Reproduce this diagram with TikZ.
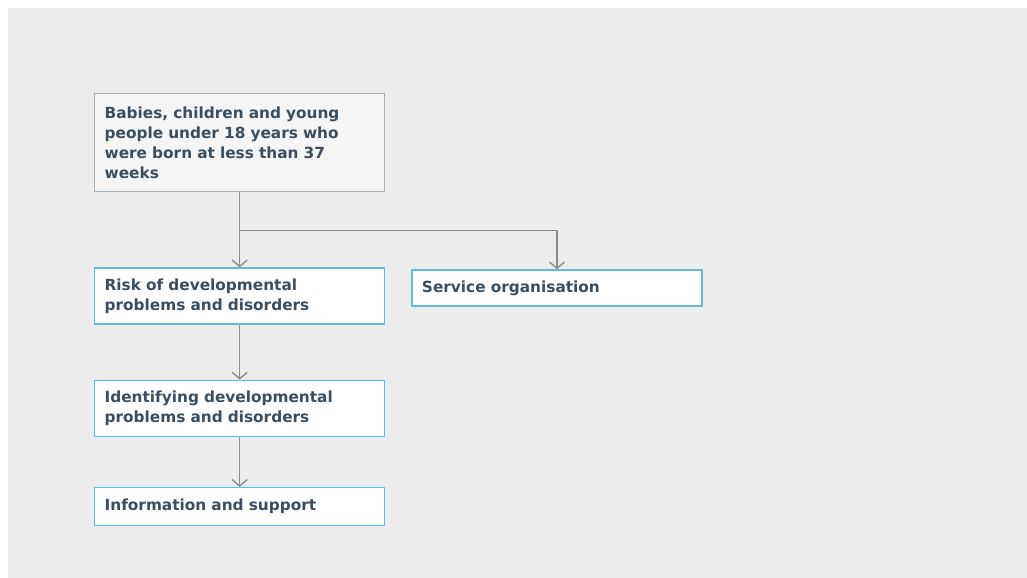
\documentclass[tikz,border=0pt]{standalone}
\usepackage{fontspec}
\setmainfont{DejaVu Sans}
\usetikzlibrary{positioning,arrows.meta}

\definecolor{bggray}{HTML}{ECECEC}
\definecolor{txtslate}{HTML}{3A4E60}
\definecolor{boxblue}{HTML}{5BBCE6}
\definecolor{topedge}{HTML}{A8AFB5}
\definecolor{topfill}{HTML}{F5F5F5}
\definecolor{linegray}{HTML}{8C8C8C}

\tikzset{
  box/.style={draw=boxblue, fill=white, line width=0.9pt, text=txtslate,
    font=\bfseries\fontsize{10.9}{14.2}\selectfont, align=left,
    text width=6.75cm, inner xsep=0.25cm, inner ysep=2pt},
  topbox/.style={box, draw=topedge, fill=topfill},
  conn/.style={draw=linegray, line width=1pt,
    -{Straight Barb[length=1.6mm, width=3.8mm]}}
}

\begin{document}
\begin{tikzpicture}[x=0.025cm, y=-0.025cm]
  \useasboundingbox (0,0) rectangle (1027,578);
  \fill[bggray] (8,8) rectangle (1027,578);

  %Define nodes
  \node[topbox, minimum height=2.45cm, anchor=north west] (babies) at (94,93)
    {Babies, children and young\\people under 18 years who\\were born at less than 37\\weeks};
  \node[box, minimum height=1.4cm, below=1.875cm of babies] (risk)
    {Risk of developmental\\problems and disorders};
  \node[box, minimum height=0.9cm, right=0.65cm of risk.north east, anchor=north west, yshift=-0.05cm] (service)
    {Service organisation};
  \node[box, minimum height=1.4cm, below=1.375cm of risk] (identify)
    {Identifying developmental\\problems and disorders};
  \node[box, minimum height=0.95cm, below=1.25cm of identify] (info)
    {Information and support};
  \coordinate[below=0.95cm of babies.south] (split);

  % Connect the nodes
  \draw[conn] (babies.south) -- (risk.north);
  \draw[conn] (split) -| (service.north);
  \draw[conn] (risk.south) -- (identify.north);
  \draw[conn] (identify.south) -- (info.north);

\end{tikzpicture}
\end{document}
